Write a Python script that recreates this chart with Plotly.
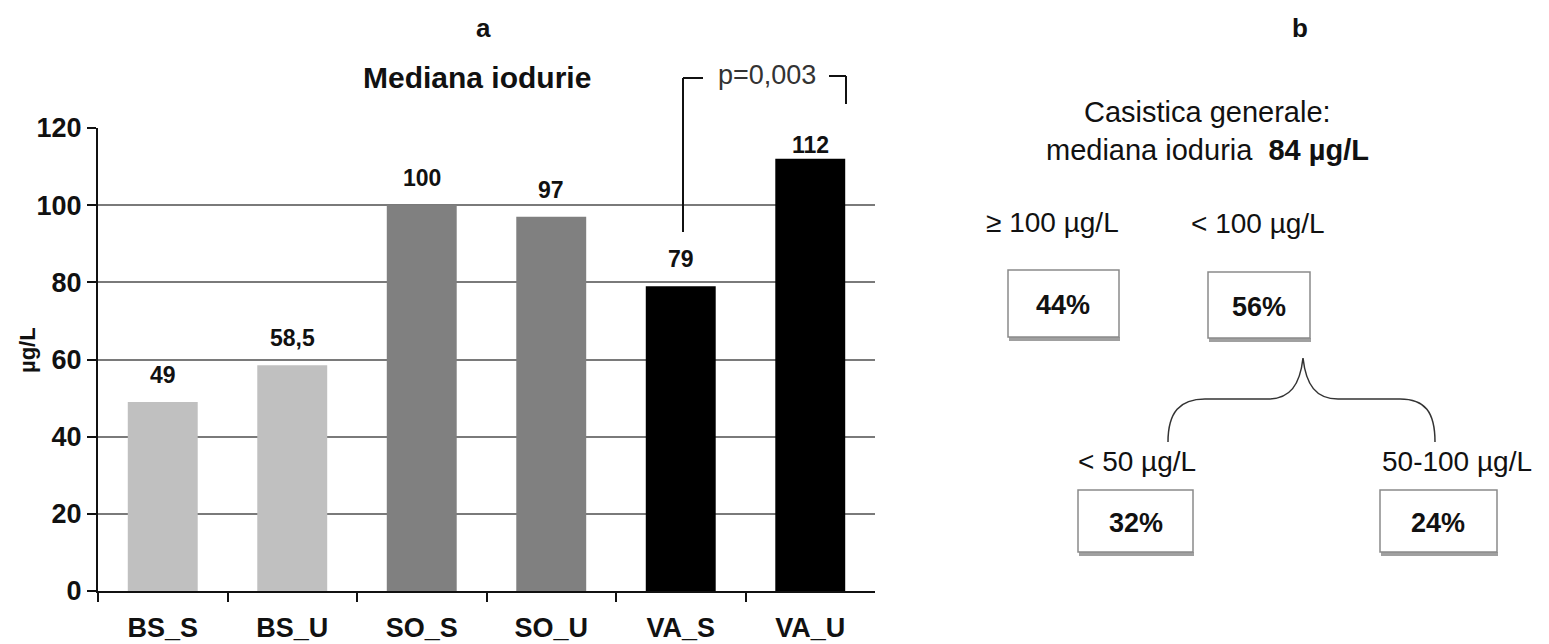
import plotly.graph_objects as go

# Page has an 8px body margin; the figure is sized to end at the viewport edge.
OFF = 8
W, H = 1549 - OFF, 644 - OFF

# ---- data ----
categories = ["BS_S", "BS_U", "SO_S", "SO_U", "VA_S", "VA_U"]
medians = [49, 58.5, 100, 97, 79, 112]
bar_colors = ["#c0c0c0", "#c0c0c0", "#808080", "#808080", "#000000", "#000000"]
y_ticks = [0, 20, 40, 60, 80, 100, 120]
p_value_text = "p=0,003"

overall_median = "84 µg/L"
split_labels = ["≥ 100 µg/L", "< 100 µg/L"]
split_pcts = ["44%", "56%"]
sub_labels = ["< 50 µg/L", "50-100 µg/L"]
sub_pcts = ["32%", "24%"]

FONT = "Liberation Sans, Arial, sans-serif"


def px(x, y):
    return (x - OFF) / W, 1 - (y - OFF) / H


fig = go.Figure()
fig.add_trace(go.Bar(
    x=categories, y=medians, marker=dict(color=bar_colors, line=dict(width=0)),
    showlegend=False, hoverinfo="x+y",
))

shapes = []
annotations = []

# value labels above bars
for c, v in zip(categories, medians):
    annotations.append(dict(
        x=c, y=v, xref="x", yref="y", text="<b>%s</b>" % f"{v:g}".replace(".", ","),
        showarrow=False, yanchor="middle", yshift=(14 if v > 110 else 27),
        font=dict(family=FONT, size=23, color="#111"),
    ))


def ptext(text, x, y, size=28, bold=False, xanchor="center", color="#111", angle=0):
    t = f"<b>{text}</b>" if bold else text
    ax, ay = px(x, y)
    annotations.append(dict(
        x=ax, y=ay, xref="paper", yref="paper", text=t, showarrow=False,
        xanchor=xanchor, yanchor="middle", textangle=angle,
        font=dict(family=FONT, size=size, color=color),
    ))


def pline(x0, y0, x1, y1, color="#111", width=2):
    a0, b0 = px(x0, y0)
    a1, b1 = px(x1, y1)
    shapes.append(dict(type="line", xref="paper", yref="paper", x0=a0, y0=b0, x1=a1, y1=b1,
                       line=dict(color=color, width=width)))


def pbox(x0, y0, x1, y1):
    a0, b0 = px(x0 + 1, y1)
    a1, b1 = px(x1 + 1, y1 + 4)
    shapes.append(dict(type="rect", xref="paper", yref="paper", x0=a0, y0=b0, x1=a1, y1=b1,
                       fillcolor="#a0a0a0", line=dict(width=0)))
    a0, b0 = px(x0, y0)
    a1, b1 = px(x1, y1)
    shapes.append(dict(type="rect", xref="paper", yref="paper", x0=a0, y0=b0, x1=a1, y1=b1,
                       fillcolor="white", line=dict(color="#8a8a8a", width=1.5)))


# panel a titles
ptext("a", 483, 28, size=26, bold=True)
ptext("Mediana iodurie", 477, 78, size=30, bold=True)
ptext("µg/L", 27, 350, size=22, bold=True, angle=-90)

# significance bracket
pline(683, 232, 683, 78)
pline(683, 78, 703, 78)
ptext(p_value_text, 767, 75, size=27, color="#333")
pline(829, 76, 846, 76)
pline(846, 76, 846, 104)

# panel b
ptext("b", 1300, 28, size=26, bold=True)
ptext("Casistica generale:", 1207, 112, size=29)
ptext("mediana ioduria  <b>%s</b>" % overall_median, 1207, 150, size=29)
ptext(split_labels[0], 1052, 222, size=28)
ptext(split_labels[1], 1258, 224, size=28)
pbox(1008, 270, 1119, 337)
pbox(1208, 272, 1310, 338)
ptext(split_pcts[0], 1063, 305, size=27, bold=True)
ptext(split_pcts[1], 1259, 307, size=27, bold=True)

# curly brace
pts = [(1168, 442), (1168, 412), (1180, 399), (1205, 399), (1268, 399), (1290, 399), (1300, 385), (1303, 358),
       (1306, 385), (1316, 399), (1338, 399), (1400, 399), (1425, 399), (1435, 412), (1435, 442)]
P = [px(x, y) for x, y in pts]
path = ("M {0[0]},{0[1]} C {1[0]},{1[1]} {2[0]},{2[1]} {3[0]},{3[1]} L {4[0]},{4[1]} "
        "C {5[0]},{5[1]} {6[0]},{6[1]} {7[0]},{7[1]} C {8[0]},{8[1]} {9[0]},{9[1]} {10[0]},{10[1]} "
        "L {11[0]},{11[1]} C {12[0]},{12[1]} {13[0]},{13[1]} {14[0]},{14[1]}").format(*P)
shapes.append(dict(type="path", xref="paper", yref="paper", path=path,
                   line=dict(color="#333", width=1.5)))

ptext(sub_labels[0], 1137, 462, size=28)
ptext(sub_labels[1], 1457, 462, size=28)
pbox(1078, 490, 1193, 552)
pbox(1380, 490, 1497, 552)
ptext(sub_pcts[0], 1136, 523, size=27, bold=True)
ptext(sub_pcts[1], 1438, 523, size=27, bold=True)

fig.update_layout(
    width=W, height=H,
    margin=dict(l=0, r=0, t=0, b=0),
    paper_bgcolor="white", plot_bgcolor="white",
    bargap=0.46,
    shapes=shapes, annotations=annotations,
    xaxis=dict(
        domain=[(98 - OFF) / W, (875 - OFF) / W], type="category", tickson="boundaries",
        showgrid=False, showline=True, linecolor="#111", linewidth=2,
        ticks="outside", ticklen=9, tickwidth=2, tickcolor="#111",
        tickfont=dict(family=FONT, size=27, color="#111"),
        ticklabelstandoff=12, automargin=False, fixedrange=True,
        tickvals=categories, ticktext=["<b>%s</b>" % c for c in categories],
    ),
    yaxis=dict(
        domain=[1 - (591 - OFF) / H, 1 - (128 - OFF) / H], range=[0, 120], tickvals=y_ticks,
        ticktext=["<b>%d</b>" % t for t in y_ticks],
        showgrid=True, gridcolor="#7a7a7a", gridwidth=1.5, zeroline=False,
        showline=True, linecolor="#111", linewidth=2,
        ticks="outside", ticklen=9, tickwidth=2, tickcolor="#111",
        tickfont=dict(family=FONT, size=27, color="#111"),
        automargin=False, fixedrange=True,
    ),
)

fig.write_html("out.html")
